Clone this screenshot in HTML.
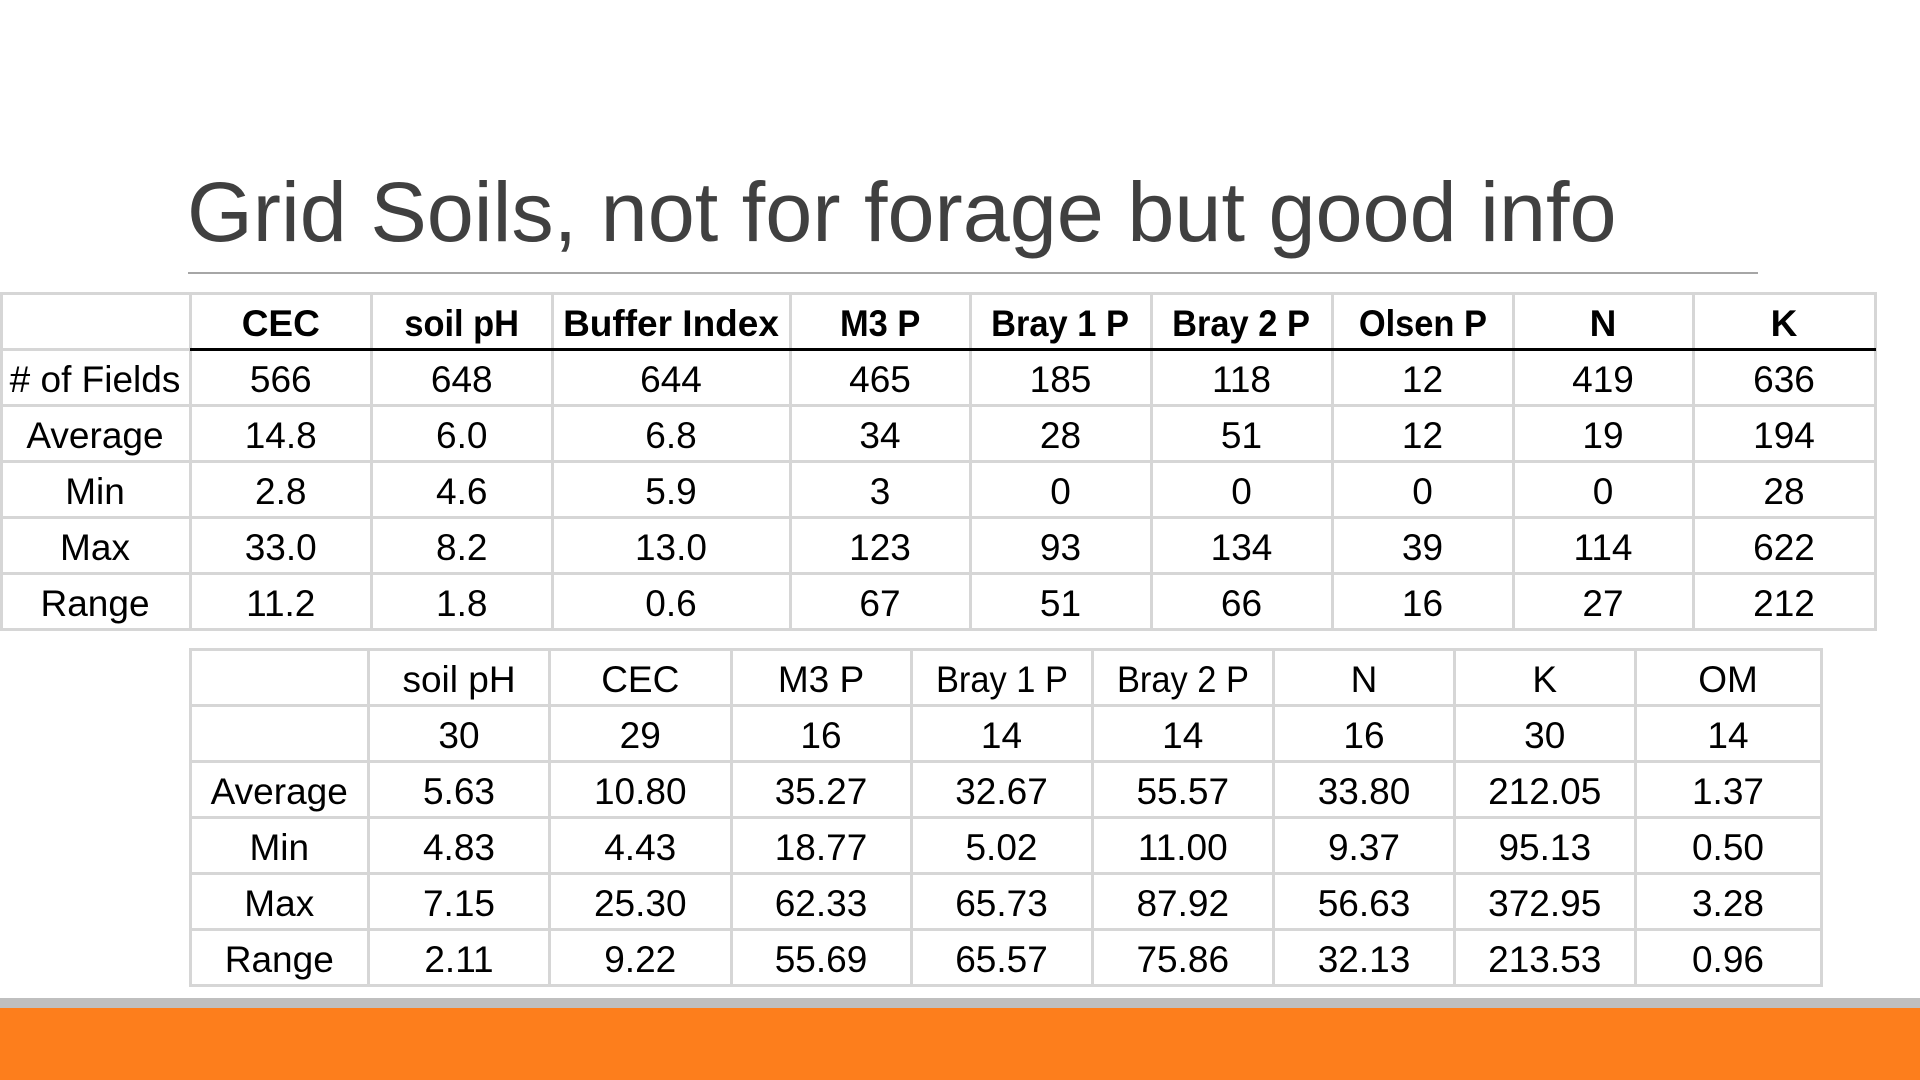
<!DOCTYPE html>
<html>
<head>
<meta charset="utf-8">
<style>
  html, body { margin:0; padding:0; }
  body { width:1920px; height:1080px; position:relative; overflow:hidden; background:#fff;
         font-family:"Liberation Sans", Arial, sans-serif; }
  .title { position:absolute; left:187px; top:170px; font-size:84.6px; line-height:84px;
           color:#404040; white-space:nowrap; }
  .uline { position:absolute; left:188px; top:272px; width:1570px; height:2px; background:#a6a6a6; }
  .grid { position:absolute; display:grid; }
  .grid div { display:flex; align-items:center; justify-content:center; padding-top:4px; box-sizing:border-box;
              font-size:37px; line-height:37px; color:#000; white-space:nowrap; }
  .grid div span { display:inline-block; transform:scaleX(0.93); }
  #t1 { left:0; top:293px; grid-template-columns:190px 181.5px 180.5px 238px 180px 181px 181px 181px 180px 182px;
        grid-template-rows:repeat(6,56px); }
  #t1 .b { font-weight:bold; }
  #t2 { left:190px; top:649px; grid-template-columns:178.5px 181px 181.5px 180px 181px 181.5px 181px 180.5px 186px;
        grid-template-rows:repeat(6,56px); }
  .h { position:absolute; height:3px; background:#d6d6d6; }
  .v { position:absolute; width:3px; background:#d6d6d6; }
  .blk { position:absolute; height:3px; background:#000; }
  .gbar { position:absolute; left:0; top:998px; width:1920px; height:10px; background:#bfbfbf; }
  .obar { position:absolute; left:0; top:1008px; width:1920px; height:72px; background:#fd7e1c; }
</style>
</head>
<body>
<div class="title">Grid Soils, not for forage but good info</div>
<div class="uline"></div>

<!-- Table 1 lines -->
<div class="h" style="left:0;top:292px;width:1877px"></div>
<div class="h" style="left:0;top:348px;width:190px"></div>
<div class="h" style="left:0;top:404px;width:1877px"></div>
<div class="h" style="left:0;top:460px;width:1877px"></div>
<div class="h" style="left:0;top:516px;width:1877px"></div>
<div class="h" style="left:0;top:572px;width:1877px"></div>
<div class="h" style="left:0;top:628px;width:1877px"></div>
<div class="v" style="left:0;top:292px;height:339px"></div>
<div class="v" style="left:189px;top:292px;height:339px"></div>
<div class="v" style="left:370px;top:292px;height:339px"></div>
<div class="v" style="left:551px;top:292px;height:339px"></div>
<div class="v" style="left:789px;top:292px;height:339px"></div>
<div class="v" style="left:969px;top:292px;height:339px"></div>
<div class="v" style="left:1150px;top:292px;height:339px"></div>
<div class="v" style="left:1331px;top:292px;height:339px"></div>
<div class="v" style="left:1512px;top:292px;height:339px"></div>
<div class="v" style="left:1692px;top:292px;height:339px"></div>
<div class="v" style="left:1874px;top:292px;height:339px"></div>
<div class="blk" style="left:190px;top:348px;width:1686px"></div>

<div class="grid" id="t1">
  <div></div><div class="b">CEC</div><div class="b"><span>soil pH</span></div><div class="b">Buffer Index</div><div class="b"><span>M3 P</span></div><div class="b"><span>Bray 1 P</span></div><div class="b"><span>Bray 2 P</span></div><div class="b"><span>Olsen P</span></div><div class="b">N</div><div class="b">K</div>
  <div># of Fields</div><div>566</div><div>648</div><div>644</div><div>465</div><div>185</div><div>118</div><div>12</div><div>419</div><div>636</div>
  <div>Average</div><div>14.8</div><div>6.0</div><div>6.8</div><div>34</div><div>28</div><div>51</div><div>12</div><div>19</div><div>194</div>
  <div>Min</div><div>2.8</div><div>4.6</div><div>5.9</div><div>3</div><div>0</div><div>0</div><div>0</div><div>0</div><div>28</div>
  <div>Max</div><div>33.0</div><div>8.2</div><div>13.0</div><div>123</div><div>93</div><div>134</div><div>39</div><div>114</div><div>622</div>
  <div>Range</div><div>11.2</div><div>1.8</div><div>0.6</div><div>67</div><div>51</div><div>66</div><div>16</div><div>27</div><div>212</div>
</div>

<!-- Table 2 lines -->
<div class="h" style="left:189px;top:648px;width:1634px"></div>
<div class="h" style="left:189px;top:704px;width:1634px"></div>
<div class="h" style="left:189px;top:760px;width:1634px"></div>
<div class="h" style="left:189px;top:816px;width:1634px"></div>
<div class="h" style="left:189px;top:872px;width:1634px"></div>
<div class="h" style="left:189px;top:928px;width:1634px"></div>
<div class="h" style="left:189px;top:984px;width:1634px"></div>
<div class="v" style="left:189px;top:648px;height:339px"></div>
<div class="v" style="left:367px;top:648px;height:339px"></div>
<div class="v" style="left:548px;top:648px;height:339px"></div>
<div class="v" style="left:730px;top:648px;height:339px"></div>
<div class="v" style="left:910px;top:648px;height:339px"></div>
<div class="v" style="left:1091px;top:648px;height:339px"></div>
<div class="v" style="left:1272px;top:648px;height:339px"></div>
<div class="v" style="left:1453px;top:648px;height:339px"></div>
<div class="v" style="left:1634px;top:648px;height:339px"></div>
<div class="v" style="left:1820px;top:648px;height:339px"></div>

<div class="grid" id="t2">
  <div></div><div>soil pH</div><div>CEC</div><div>M3 P</div><div><span>Bray 1 P</span></div><div><span>Bray 2 P</span></div><div>N</div><div>K</div><div>OM</div>
  <div></div><div>30</div><div>29</div><div>16</div><div>14</div><div>14</div><div>16</div><div>30</div><div>14</div>
  <div>Average</div><div>5.63</div><div>10.80</div><div>35.27</div><div>32.67</div><div>55.57</div><div>33.80</div><div>212.05</div><div>1.37</div>
  <div>Min</div><div>4.83</div><div>4.43</div><div>18.77</div><div>5.02</div><div>11.00</div><div>9.37</div><div>95.13</div><div>0.50</div>
  <div>Max</div><div>7.15</div><div>25.30</div><div>62.33</div><div>65.73</div><div>87.92</div><div>56.63</div><div>372.95</div><div>3.28</div>
  <div>Range</div><div>2.11</div><div>9.22</div><div>55.69</div><div>65.57</div><div>75.86</div><div>32.13</div><div>213.53</div><div>0.96</div>
</div>

<div class="gbar"></div>
<div class="obar"></div>
</body>
</html>
